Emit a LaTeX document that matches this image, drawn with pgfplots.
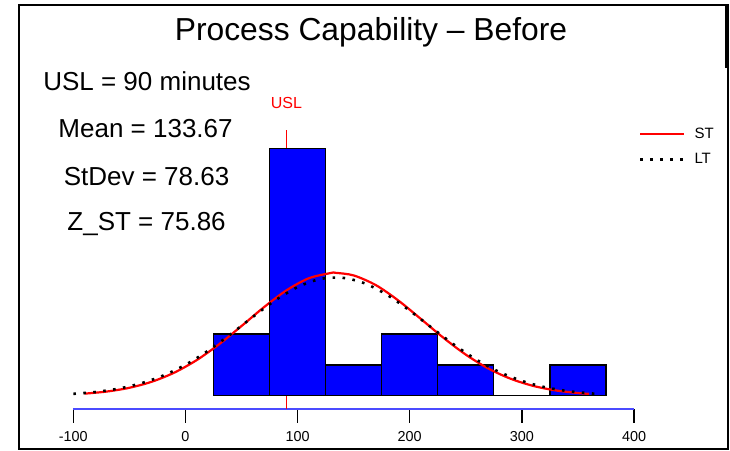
\documentclass[border=0pt]{standalone}
\usepackage{fontspec}
\setmainfont{Liberation Sans}
\usepackage{pgfplots}
\pgfplotsset{compat=1.18}
\definecolor{barblue}{HTML}{0000FF}
\definecolor{axblue}{HTML}{4B4BFF}
\definecolor{stred}{HTML}{FF0000}

\begin{document}
\begin{tikzpicture}
\begin{axis}[
  scale only axis,
  width=280.35pt, height=201.85pt,
  xmin=-100, xmax=400,
  ymin=-0.42, ymax=12.64,
  axis x line=bottom, axis y line=none,
  x axis line style={-, draw=axblue, line width=0.8pt},
  xtick={-100,0,100,200,300,400},
  tick align=outside,
  major tick length=7pt,
  x tick style={black, line width=0.7pt},
  x tick label style={font=\fontsize{7.2}{8}\selectfont, yshift=-1pt},
  /pgf/number format/assume math mode=true,
  clip=false,
  legend style={draw=none, fill=none, at={(axis cs:404,8.82)}, anchor=north west,
    font=\fontsize{7.5}{9}\selectfont, inner sep=0pt, row sep=2pt, column sep=2.5pt},
  legend cell align=left,
  legend image code/.code={\draw[#1] (0pt,0pt) -- (22pt,0pt);},
]
% USL reference line (behind bars)
\addplot[forget plot, stred, line width=0.6pt] coordinates {(90,-0.42) (90,8.6)};
% histogram: bins of width 50
\addplot[forget plot, ybar interval, fill=barblue, draw=black, line width=0.6pt] coordinates {
  (25,2) (75,8) (125,1) (175,2) (225,1) (275,0) (325,1) (375,1)
};
% short term normal curve
\addplot[stred, line width=1.1pt, smooth] coordinates {
  (-90,0.070) (-70,0.139) (-50,0.260) (-30,0.456) (-10,0.750) (10,1.155)
  (30,1.669) (50,2.259) (70,2.868) (90,3.411) (110,3.804) (130,3.976)
  (133.67,3.980) (150,3.895) (170,3.577) (190,3.079) (210,2.485) (230,1.879)
  (250,1.332) (270,0.885) (290,0.552) (310,0.322) (330,0.176) (350,0.090)
  (360,0.063)
};
\addlegendentry{ST}
% long term normal curve
\addplot[black, line width=1.3pt, dash pattern=on 1.3pt off 3.7pt, smooth] coordinates {
  (-100,0.064) (-80,0.125) (-60,0.231) (-40,0.400) (-20,0.653) (0,1.004)
  (20,1.455) (40,1.985) (60,2.551) (80,3.087) (100,3.518) (120,3.777)
  (140,3.819) (160,3.636) (180,3.261) (200,2.755) (220,2.192) (240,1.642)
  (260,1.159) (280,0.770) (300,0.482) (320,0.284) (340,0.158) (360,0.083)
  (370,0.058)
};
\addlegendentry{LT}

% frame and texts
\path (axis cs:-165.4,-1.757) rectangle (axis cs:485.6,12.806);
\draw[black, line width=1pt] (axis cs:-148.4,-1.725) rectangle (axis cs:483.8,12.64);
\draw[black, line width=2pt] (axis cs:482.9,12.64) -- (axis cs:482.9,10.6);
\node[font=\fontsize{15.9}{18}\selectfont] at (axis cs:165.5,11.77) {Process Capability – Before};
\node[font=\fontsize{13}{15}\selectfont] at (axis cs:-34.3,10.18) {USL = 90 minutes};
\node[font=\fontsize{13}{15}\selectfont] at (axis cs:-35.6,8.66) {Mean = 133.67};
\node[font=\fontsize{13}{15}\selectfont] at (axis cs:-34.7,7.11) {StDev = 78.63};
\node[font=\fontsize{13}{15}\selectfont] at (axis cs:-34.7,5.56) {Z\_ST = 75.86};
\node[font=\fontsize{8}{9}\selectfont, text=stred] at (axis cs:90,9.47) {USL};
\end{axis}
\end{tikzpicture}
\end{document}
